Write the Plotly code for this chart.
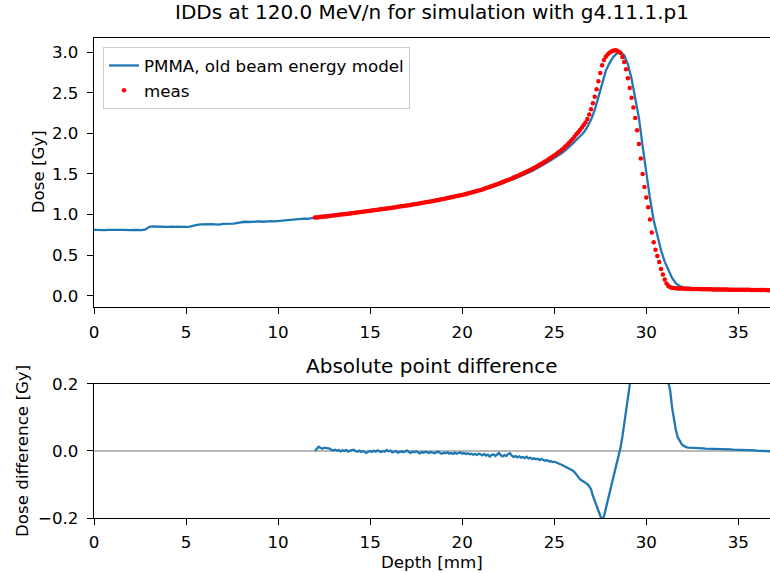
import plotly.graph_objects as go

# ---------------- data ----------------
# simulated depth-dose, 0.2 mm bins from 0.0 to 36.8 mm
sim_dose = [
    0.812, 0.809, 0.811, 0.807, 0.810, 0.813, 0.808, 0.810, 0.812, 0.807,
    0.809, 0.811, 0.806, 0.809, 0.816, 0.848, 0.853, 0.850, 0.847, 0.852,
    0.849, 0.851, 0.848, 0.846, 0.850, 0.848, 0.851, 0.857, 0.872, 0.879,
    0.882, 0.878, 0.883, 0.880, 0.877, 0.884, 0.887, 0.882, 0.889, 0.898,
    0.907, 0.911, 0.908, 0.913, 0.910, 0.915, 0.911, 0.916, 0.919, 0.915,
    0.920, 0.927, 0.931, 0.934, 0.937, 0.939, 0.946, 0.950, 0.948, 0.955,
    0.963, 0.980, 0.979, 0.986, 0.989, 0.990, 0.995, 0.999, 1.005, 1.009,
    1.019, 1.023, 1.030, 1.035, 1.035, 1.047, 1.054, 1.061, 1.063, 1.070,
    1.077, 1.081, 1.091, 1.095, 1.101, 1.113, 1.113, 1.123, 1.129, 1.139,
    1.148, 1.152, 1.162, 1.171, 1.178, 1.188, 1.199, 1.206, 1.217, 1.226,
    1.234, 1.245, 1.256, 1.267, 1.278, 1.293, 1.309, 1.323, 1.338, 1.351,
    1.376, 1.384, 1.403, 1.429, 1.437, 1.456, 1.475, 1.496, 1.517, 1.538,
    1.561, 1.585, 1.613, 1.640, 1.667, 1.696, 1.724, 1.755, 1.792, 1.829,
    1.872, 1.918, 1.959, 2.011, 2.079, 2.170, 2.290, 2.448, 2.620, 2.770,
    2.866, 2.938, 2.986, 3.000, 2.962, 2.852, 2.672, 2.452, 2.190, 1.842,
    1.502, 1.200, 0.930, 0.728, 0.560, 0.420, 0.310, 0.220, 0.155, 0.120,
    0.102, 0.096, 0.093, 0.092, 0.091, 0.089, 0.088, 0.087, 0.086, 0.085,
    0.084, 0.082, 0.081, 0.080, 0.079, 0.078, 0.077, 0.076, 0.075, 0.074,
    0.073, 0.072, 0.071, 0.070, 0.069,
]

# measured depth-dose, 0.1 mm steps from 12.0 to 36.8 mm
meas_dose = [
    0.963, 0.965, 0.967, 0.969, 0.972, 0.975, 0.977, 0.980, 0.982, 0.985,
    0.988, 0.991, 0.994, 0.997, 1.000, 1.003, 1.005, 1.008, 1.011, 1.014,
    1.017, 1.020, 1.023, 1.026, 1.029, 1.032, 1.035, 1.038, 1.041, 1.044,
    1.047, 1.050, 1.053, 1.056, 1.059, 1.062, 1.066, 1.069, 1.072, 1.075,
    1.078, 1.081, 1.085, 1.088, 1.091, 1.095, 1.098, 1.101, 1.105, 1.108,
    1.112, 1.116, 1.119, 1.123, 1.127, 1.131, 1.134, 1.138, 1.142, 1.146,
    1.150, 1.154, 1.158, 1.162, 1.167, 1.171, 1.175, 1.180, 1.184, 1.189,
    1.193, 1.198, 1.203, 1.207, 1.212, 1.217, 1.222, 1.227, 1.232, 1.237,
    1.242, 1.248, 1.254, 1.260, 1.266, 1.272, 1.278, 1.284, 1.290, 1.297,
    1.303, 1.310, 1.318, 1.326, 1.334, 1.342, 1.350, 1.358, 1.366, 1.374,
    1.382, 1.391, 1.400, 1.409, 1.418, 1.427, 1.436, 1.445, 1.455, 1.465,
    1.475, 1.485, 1.495, 1.506, 1.517, 1.528, 1.539, 1.550, 1.562, 1.574,
    1.586, 1.599, 1.612, 1.625, 1.639, 1.653, 1.667, 1.682, 1.697, 1.712,
    1.728, 1.744, 1.761, 1.778, 1.796, 1.815, 1.838, 1.858, 1.880, 1.905,
    1.930, 1.958, 1.988, 2.015, 2.043, 2.072, 2.102, 2.135, 2.178, 2.232,
    2.296, 2.370, 2.452, 2.545, 2.642, 2.745, 2.840, 2.905, 2.945, 2.972,
    2.993, 3.008, 3.018, 3.024, 3.021, 3.006, 2.990, 2.940, 2.880, 2.790,
    2.680, 2.560, 2.440, 2.320, 2.190, 2.040, 1.870, 1.690, 1.500, 1.340,
    1.210, 1.090, 0.940, 0.780, 0.660, 0.565, 0.490, 0.415, 0.330, 0.260,
    0.200, 0.150, 0.120, 0.105, 0.098, 0.094, 0.091, 0.090, 0.089, 0.088,
    0.088, 0.087, 0.086, 0.085, 0.084, 0.084, 0.083, 0.083, 0.082, 0.082,
    0.081, 0.080, 0.080, 0.079, 0.079, 0.079, 0.078, 0.078, 0.078, 0.077,
    0.077, 0.077, 0.076, 0.076, 0.076, 0.075, 0.075, 0.075, 0.074, 0.074,
    0.074, 0.073, 0.073, 0.073, 0.072, 0.072, 0.072, 0.071, 0.071, 0.071,
    0.070, 0.070, 0.070, 0.069, 0.069, 0.069, 0.068, 0.068, 0.068,
]

# absolute point difference (simulation - measurement), same depths as meas
diff_dose = [
    0.000, 0.008, 0.013, 0.010, 0.007, 0.010, 0.009, 0.006, 0.007, 0.003,
    0.002, 0.004, 0.001, 0.003, -0.001, 0.002, 0.000, 0.003, -0.002, 0.001,
    0.002, 0.004, 0.000, -0.002, 0.001, -0.003, 0.000, -0.004, -0.006, -0.002,
    0.000, -0.003, 0.001, -0.002, 0.002, -0.001, -0.003, 0.000, -0.002, 0.003,
    -0.001, 0.001, -0.004, -0.002, 0.000, -0.005, -0.003, -0.001, -0.004, -0.002,
    0.001, -0.003, -0.006, -0.002, -0.004, -0.001, -0.005, -0.007, -0.003, -0.005,
    -0.002, -0.004, -0.006, -0.003, -0.005, -0.007, -0.004, -0.002, -0.006, -0.008,
    -0.005, -0.007, -0.004, -0.008, -0.006, -0.009, -0.005, -0.008, -0.006, -0.004,
    -0.008, -0.006, -0.009, -0.007, -0.010, -0.008, -0.011, -0.009, -0.012, -0.008,
    -0.010, -0.013, -0.009, -0.014, -0.011, -0.017, -0.012, -0.010, -0.015, -0.011,
    -0.006, -0.013, -0.016, -0.012, -0.015, -0.009, -0.007, -0.014, -0.018, -0.015,
    -0.019, -0.016, -0.020, -0.018, -0.021, -0.017, -0.022, -0.020, -0.024, -0.022,
    -0.025, -0.023, -0.027, -0.024, -0.026, -0.029, -0.027, -0.031, -0.030, -0.033,
    -0.032, -0.035, -0.037, -0.039, -0.041, -0.044, -0.046, -0.048, -0.051, -0.054,
    -0.058, -0.063, -0.070, -0.078, -0.084, -0.088, -0.091, -0.095, -0.099, -0.105,
    -0.115, -0.134, -0.150, -0.165, -0.180, -0.198, -0.208, -0.195, -0.172, -0.150,
    -0.129, -0.105, -0.082, -0.058, -0.035, -0.012, 0.010, 0.042, 0.082, 0.128,
    0.175, 0.212, 0.235, 0.250, 0.265, 0.290, 0.320, 0.335, 0.340, 0.320,
    0.295, 0.275, 0.262, 0.265, 0.270, 0.260, 0.245, 0.235, 0.230, 0.225,
    0.220, 0.215, 0.205, 0.180, 0.130, 0.095, 0.065, 0.042, 0.030, 0.022,
    0.016, 0.013, 0.011, 0.010, 0.010, 0.009, 0.009, 0.009, 0.008, 0.008,
    0.008, 0.008, 0.007, 0.007, 0.007, 0.007, 0.007, 0.006, 0.006, 0.006,
    0.006, 0.006, 0.005, 0.005, 0.005, 0.005, 0.005, 0.004, 0.004, 0.004,
    0.004, 0.003, 0.003, 0.003, 0.003, 0.003, 0.002, 0.002, 0.002, 0.002,
    0.001, 0.001, 0.001, 0.001, 0.000, 0.000, 0.000, -0.001, -0.001,
]

sim_depth = [round(0.2 * i, 1) for i in range(len(sim_dose))]
meas_depth = [round(12.0 + 0.1 * i, 1) for i in range(len(meas_dose))]
diff_depth = meas_depth

x_ticks = [0, 5, 10, 15, 20, 25, 30, 35]
dose_ticks = [0.0, 0.5, 1.0, 1.5, 2.0, 2.5, 3.0]
diff_ticks = [-0.2, 0.0, 0.2]

title_text = "IDDs at 120.0 MeV/n for simulation with g4.11.1.p1"
subtitle_text = "Absolute point difference"

# ---------------- figure ----------------
BLUE = "#1f77b4"
RED = "#ff0000"
FONT = "DejaVu Sans"
FS = 16.7

fig = go.Figure()
fig.add_trace(go.Scatter(
    x=sim_depth, y=sim_dose, mode="lines",
    line=dict(color=BLUE, width=2.3),
    name="PMMA, old beam energy model", xaxis="x", yaxis="y"))
fig.add_trace(go.Scatter(
    x=meas_depth, y=meas_dose, mode="markers",
    marker=dict(color=RED, size=4.5, line=dict(width=0)),
    name="meas", xaxis="x", yaxis="y"))
fig.add_trace(go.Scatter(
    x=diff_depth, y=diff_dose, mode="lines",
    line=dict(color=BLUE, width=2.3),
    showlegend=False, xaxis="x2", yaxis="y2"))

axis_common = dict(
    showline=True, linecolor="black", linewidth=1.3,
    ticks="outside", ticklen=6, tickwidth=1.3, tickcolor="black",
    showgrid=False, zeroline=False,
    tickfont=dict(family=FONT, size=FS, color="black"),
)

fig.update_layout(
    width=770, height=573,
    margin=dict(l=94, r=0, t=38, b=55),
    paper_bgcolor="white", plot_bgcolor="white",
    font=dict(family=FONT, size=FS, color="black"),
    xaxis=dict(domain=[0, 1], anchor="y", range=[0, 36.72],
               tickvals=x_ticks, mirror=True, ticklabelstandoff=4,
               **axis_common),
    yaxis=dict(domain=[0.4406, 1], anchor="x", range=[-0.133, 3.175],
               tickvals=dose_ticks, tickformat=".1f", ticklabelstandoff=5,
               **axis_common),
    xaxis2=dict(domain=[0, 1], anchor="y2", range=[0, 36.72],
                tickvals=x_ticks, mirror=True, ticklabelstandoff=3,
                **axis_common),
    yaxis2=dict(domain=[0, 0.2792], anchor="x2", range=[-0.2, 0.2],
                tickvals=diff_ticks, tickformat=".1f", ticklabelstandoff=5,
                **axis_common),
    legend=dict(x=0.0133, y=0.981, xanchor="left", yanchor="top",
                bgcolor="rgba(255,255,255,0.8)", bordercolor="#cccccc",
                borderwidth=1, font=dict(family=FONT, size=FS, color="black")),
    showlegend=True,
)

fig.add_shape(type="line", xref="x2 domain", yref="y2",
              x0=0, x1=1, y0=0, y1=0,
              line=dict(color="rgba(128,128,128,0.55)", width=2),
              layer="below")

ann = [
    dict(text=title_text, x=0.5, y=1.024, xref="paper", yref="paper",
         xanchor="center", yanchor="bottom", showarrow=False,
         font=dict(family=FONT, size=20, color="black")),
    dict(text=subtitle_text, x=0.5, y=0.2875, xref="paper", yref="paper",
         xanchor="center", yanchor="bottom", showarrow=False,
         font=dict(family=FONT, size=20, color="black")),
    dict(text="Depth [mm]", x=0.5, y=-0.092, xref="paper", yref="paper",
         xanchor="center", yanchor="middle", showarrow=False, borderpad=0,
         font=dict(family=FONT, size=FS, color="black")),
    dict(text="Dose [Gy]", x=-0.0828, y=0.7203, xref="paper", yref="paper",
         xanchor="center", yanchor="middle", textangle=-90, showarrow=False,
         font=dict(family=FONT, size=FS, color="black")),
    dict(text="Dose difference [Gy]", x=-0.1065, y=0.1396, xref="paper",
         yref="paper", xanchor="center", yanchor="middle", textangle=-90,
         showarrow=False, font=dict(family=FONT, size=FS, color="black")),
]
fig.update_layout(annotations=ann)

fig.write_html("out.html",
               config={"displayModeBar": False},
               post_script="document.body.style.margin='0';"
                           "document.body.style.overflow='hidden';")
